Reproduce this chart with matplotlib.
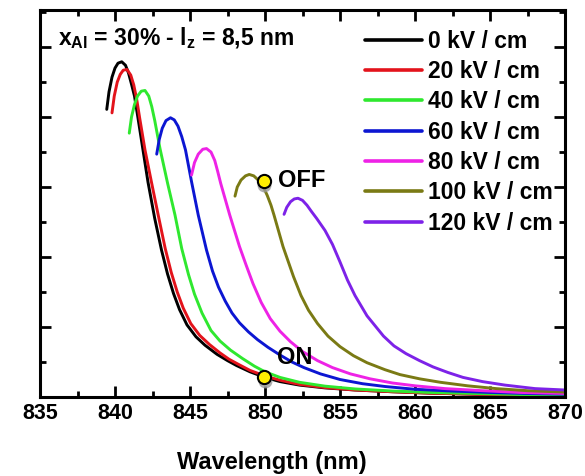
import matplotlib
matplotlib.use("Agg")
import matplotlib.pyplot as plt
from matplotlib.ticker import MultipleLocator, NullFormatter
import matplotlib.transforms as mtransforms

plt.rcParams['font.family'] = ['Liberation Sans', 'DejaVu Sans']
plt.rcParams['font.weight'] = 'bold'
plt.rcParams['mathtext.fontset'] = 'custom'
plt.rcParams['mathtext.rm'] = 'Liberation Sans:bold'
plt.rcParams['mathtext.it'] = 'Liberation Sans:bold'
plt.rcParams['mathtext.bf'] = 'Liberation Sans:bold'

labels = ["0 kV / cm", "20 kV / cm", "40 kV / cm", "60 kV / cm",
          "80 kV / cm", "100 kV / cm", "120 kV / cm"]
colors = ['#000000', '#e3131b', '#2fe82f', '#0c16d2', '#ee22e6', '#7a7a14', '#7d22e8']

wl_0 = [839.45, 839.6, 839.8, 840.0, 840.2, 840.45, 840.7, 840.9, 841.1, 841.3, 841.5,
        841.8, 842.2, 842.65, 843.1, 843.5, 843.9, 844.3, 844.8, 845.4, 846.0, 846.8,
        847.5, 848.1, 849.0, 850.0, 851.0, 852.3, 854.0, 856.0, 858.5, 861.0, 864.0,
        867.0, 870.0]
int_0 = [4.11, 4.36, 4.57, 4.70, 4.77, 4.79, 4.74, 4.63, 4.47, 4.3, 4.03,
         3.62, 3.07, 2.55, 2.1, 1.76, 1.48, 1.25, 1.03, 0.86, 0.74, 0.61,
         0.52, 0.45, 0.36, 0.28, 0.22, 0.17, 0.13, 0.1, 0.075, 0.055, 0.04,
         0.03, 0.025]

wl_20 = [839.8, 839.95, 840.15, 840.35, 840.55, 840.8, 841.05, 841.25, 841.45, 841.65,
         842.0, 842.45, 842.9, 843.35, 843.75, 844.15, 844.55, 845.05, 845.65, 846.3,
         847.0, 847.6, 848.2, 849.0, 850.0, 851.0, 852.3, 854.0, 856.0, 858.5, 861.0,
         864.0, 867.0, 870.0]
int_20 = [4.06, 4.3, 4.5, 4.61, 4.67, 4.68, 4.6, 4.46, 4.25, 3.98,
          3.53, 3.05, 2.58, 2.12, 1.78, 1.5, 1.27, 1.05, 0.88, 0.75,
          0.63, 0.54, 0.47, 0.38, 0.3, 0.24, 0.18, 0.135, 0.1, 0.075, 0.055,
          0.04, 0.03, 0.025]

wl_40 = [840.95, 841.1, 841.3, 841.5, 841.75, 842.0, 842.25, 842.45, 842.65, 843.0,
         843.5, 844.0, 844.45, 844.9, 845.3, 845.8, 846.4, 847.0, 847.7, 848.5,
         849.3, 850.0, 851.0, 852.3, 854.0, 856.0, 858.5, 861.0, 864.0, 867.0, 870.0]
int_40 = [3.77, 4.0, 4.18, 4.3, 4.37, 4.38, 4.3, 4.15, 3.95, 3.55,
          3.06, 2.6, 2.12, 1.75, 1.47, 1.2, 0.95, 0.8, 0.67, 0.55,
          0.44, 0.36, 0.28, 0.21, 0.155, 0.115, 0.085, 0.065, 0.05, 0.035, 0.03]

wl_60 = [842.78, 842.95, 843.15, 843.4, 843.7, 843.95, 844.2, 844.45, 844.7, 845.1,
         845.55, 846.1, 846.5, 846.9, 847.35, 847.8, 848.3, 848.9, 849.5, 850.2,
         851.0, 851.8, 852.6, 853.7, 855.0, 856.5, 858.0, 860.0, 862.5, 865.0,
         867.5, 870.0]
int_60 = [3.47, 3.68, 3.84, 3.95, 3.99, 3.96, 3.87, 3.72, 3.53, 3.08,
          2.6, 2.1, 1.8, 1.57, 1.37, 1.2, 1.06, 0.93, 0.82, 0.71,
          0.6, 0.5, 0.42, 0.33, 0.25, 0.19, 0.15, 0.11, 0.085, 0.065,
          0.05, 0.04]

wl_80 = [845.1, 845.3, 845.55, 845.85, 846.1, 846.4, 846.65, 846.85, 847.05, 847.65,
         848.3, 848.75, 849.2, 849.75, 850.35, 851.0, 851.7, 852.5, 853.5, 854.5,
         855.7, 857.0, 858.5, 860.0, 862.0, 864.5, 867.0, 870.0]
int_80 = [3.17, 3.35, 3.47, 3.54, 3.55, 3.5, 3.38, 3.22, 3.05, 2.6,
          2.15, 1.88, 1.62, 1.35, 1.12, 0.94, 0.79, 0.65, 0.52, 0.42,
          0.33, 0.26, 0.2, 0.16, 0.12, 0.09, 0.065, 0.05]

wl_100 = [848.0, 848.15, 848.4, 848.7, 848.95, 849.25, 849.55, 849.85, 850.15, 850.4,
          850.6, 851.2, 851.9, 852.4, 852.9, 853.5, 854.2, 855.0, 855.9, 856.8,
          858.0, 859.0, 860.3, 861.7, 863.5, 865.4, 867.5, 870.0]
int_100 = [2.87, 3.0, 3.1, 3.16, 3.18, 3.16, 3.1, 3.02, 2.88, 2.74,
           2.6, 2.15, 1.72, 1.45, 1.24, 1.05, 0.87, 0.72, 0.59, 0.49,
           0.39, 0.32, 0.26, 0.21, 0.16, 0.12, 0.09, 0.07]

wl_120 = [851.27, 851.45, 851.7, 851.95, 852.2, 852.5, 852.8, 853.1, 853.45, 854.0,
          854.5, 855.0, 855.5, 856.0, 856.8, 857.9, 858.6, 859.4, 860.3, 861.2,
          862.2, 863.2, 864.5, 866.0, 868.0, 870.0]
int_120 = [2.61, 2.71, 2.79, 2.83, 2.84, 2.81, 2.74, 2.65, 2.55, 2.38,
           2.18, 1.93, 1.67, 1.45, 1.16, 0.87, 0.73, 0.62, 0.52, 0.43,
           0.35, 0.28, 0.22, 0.17, 0.12, 0.1]

wavelengths = [wl_0, wl_20, wl_40, wl_60, wl_80, wl_100, wl_120]
intensities = [int_0, int_20, int_40, int_60, int_80, int_100, int_120]

marker_wl = [849.9, 849.95]
marker_int = [3.09, 0.28]
marker_text = ["OFF", "ON"]
text_wl = [850.85, 850.8]
text_int = [3.09, 0.57]

title_text = r"x$_{\mathrm{Al}}$ = 30% - l$_{\mathrm{z}}$ = 8,5 nm"
xlabel_text = "Wavelength (nm)"

fig = plt.figure(figsize=(5.85, 4.76), dpi=100)
ax = fig.add_axes([40/585, 1-397/476, 525/585, 387/476])

for wl, it, c, lab in zip(wavelengths, intensities, colors, labels):
    ax.plot(wl, it, color=c, lw=2.1, label=lab, solid_capstyle='round',
            solid_joinstyle='round')

# markers with shadow
shadow = mtransforms.offset_copy(ax.transData, fig=fig, x=0.5, y=-4, units='dots')
ax.plot(marker_wl, marker_int, 'o', ms=10, color='#9a9a9a', alpha=0.8,
        mec='none', transform=shadow, zorder=5)
ax.plot(marker_wl, marker_int, 'o', ms=9.5, mfc='#ffee00', mec='black', mew=1.5, zorder=6)
for tx, ty, t in zip(text_wl, text_int, marker_text):
    ax.text(tx, ty, t, fontsize=17, fontweight='bold', ha='left', va='center', zorder=7)

ax.text(0.034, 0.91, title_text, transform=ax.transAxes, fontsize=16.5,
        fontweight='bold', ha='left', va='baseline')

ax.set_xlim(835, 870)
ax.set_ylim(0, 5.53)
ax.xaxis.set_major_locator(MultipleLocator(5))
ax.xaxis.set_minor_locator(MultipleLocator(2.5))
ax.yaxis.set_major_locator(MultipleLocator(1))
ax.yaxis.set_minor_locator(MultipleLocator(0.5))
ax.yaxis.set_major_formatter(NullFormatter())
ax.tick_params(which='major', direction='in', length=8, width=2, top=True, right=True,
               labelsize=15.5, pad=4)
ax.tick_params(which='minor', direction='in', length=4.5, width=2, top=True, right=True)
ax.tick_params(axis='y', which='both', labelleft=False)
for lbl in ax.get_xticklabels():
    lbl.set_fontweight('bold')
for s in ax.spines.values():
    s.set_linewidth(2.2)

leg = ax.legend(loc='upper left', bbox_to_anchor=(0.619, 0.949), frameon=False,
                borderpad=0, borderaxespad=0, handlelength=2.5, handletextpad=0.25,
                labelspacing=0.32, prop={'weight': 'bold', 'size': 16.5})
for l in leg.get_lines():
    l.set_linewidth(2.6)

fig.text(272/585, 1-462/476, xlabel_text, fontsize=17, fontweight='bold',
         ha='center', va='center')

fig.savefig("out.png", dpi=100)
